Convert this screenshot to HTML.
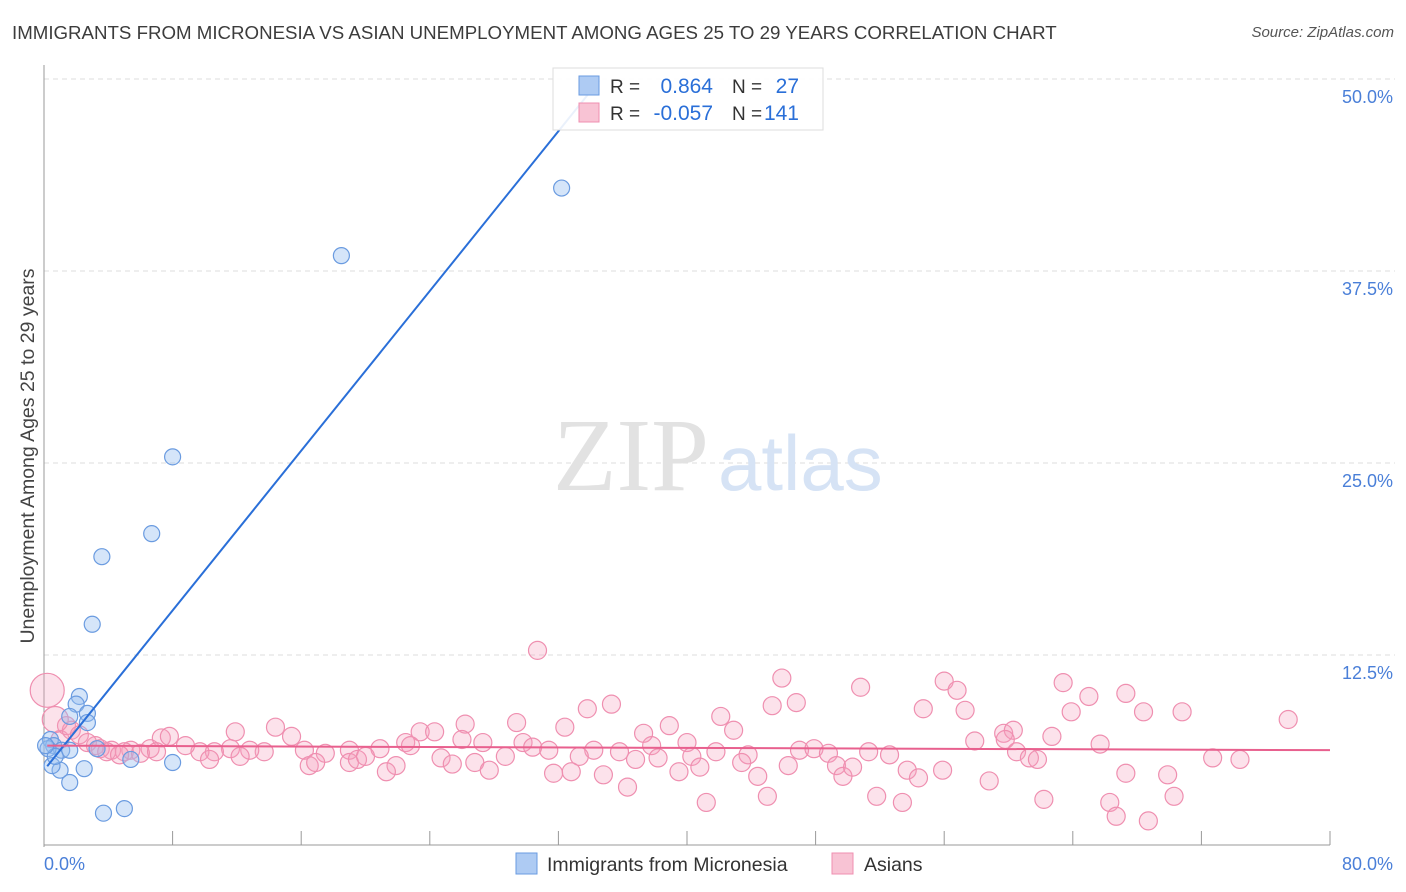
<!DOCTYPE html>
<html><head><meta charset="utf-8"><style>
body{margin:0;background:#fff;font-family:"Liberation Sans",sans-serif;}
#wrap{position:relative;width:1406px;height:892px;overflow:hidden;}
.title{position:absolute;left:12px;top:22px;font-size:18.7px;color:#3c3c3c;white-space:nowrap;}
.source{position:absolute;right:12px;top:24px;font-size:15px;color:#555;font-style:italic;}
</style></head><body>
<div id="wrap">
<div class="title">IMMIGRANTS FROM MICRONESIA VS ASIAN UNEMPLOYMENT AMONG AGES 25 TO 29 YEARS CORRELATION CHART</div>
<div class="source">Source: ZipAtlas.com</div>
<svg id="chart" width="1406" height="892" style="position:absolute;left:0;top:0"></svg>
</div>
<script>
const blueX=[32.2,18.5,8.0,6.7,3.6,3.0,2.2,2.0,2.7,2.7,1.6,0.4,0.6,1.1,3.3,5.4,8.0,2.5,1.0,0.5,1.6,3.7,5.0,0.25,0.7,1.6,0.1];
const blueY=[42.9,38.5,25.4,20.4,18.9,14.5,9.8,9.3,8.7,8.1,8.5,7.0,6.6,6.3,6.4,5.7,5.5,5.1,5.0,5.3,4.2,2.2,2.5,6.4,5.9,6.3,6.6];
const pinkX=[30.7,45.9,50.8,56.0,56.8,63.4,65.0,67.3,46.8,45.3,35.3,33.8,54.7,57.3,63.9,68.4,70.8,77.4,42.1,29.4,26.2,32.4,38.9,42.9,14.4,11.9,23.4,24.3,15.4,7.3,7.8,59.7,60.3,62.7,59.8,57.9,37.3,26.0,27.3,29.8,30.4,22.5,22.8,20.9,19.0,17.5,16.2,13.7,12.8,11.6,10.6,9.7,8.8,6.6,5.4,4.2,3.2,40.0,37.8,34.2,35.8,31.4,41.8,43.8,47.0,47.9,48.8,51.3,52.6,60.5,61.3,61.8,65.7,72.7,74.4,10.3,12.2,16.5,16.9,19.0,19.5,20.0,21.9,24.7,25.4,26.8,28.7,33.3,36.8,38.2,40.3,40.8,43.4,44.4,46.3,49.3,49.7,50.3,53.7,54.4,55.9,67.3,69.9,21.3,27.7,31.7,32.8,34.8,39.5,36.3,45.0,41.2,51.8,53.4,58.8,62.2,66.3,70.3,66.7,68.7,5.0,1.0,1.4,1.7,2.2,2.7,3.5,3.9,6.0,7.0,4.7,0.2,0.7];
const pinkY=[12.8,11.0,10.4,10.8,10.2,10.7,9.8,10.0,9.4,9.2,9.3,9.0,9.0,8.9,8.8,8.8,8.8,8.3,8.5,8.1,8.0,7.8,7.9,7.6,7.8,7.5,7.5,7.5,7.2,7.1,7.2,7.4,7.6,7.2,7.0,6.9,7.4,7.0,6.8,6.8,6.5,6.8,6.6,6.4,6.3,6.1,6.3,6.2,6.3,6.4,6.2,6.2,6.6,6.4,6.3,6.3,6.6,6.8,6.6,6.3,6.2,6.3,6.2,6.0,6.3,6.4,6.1,6.2,6.0,6.2,5.8,5.7,6.7,5.8,5.7,5.7,5.9,5.3,5.5,5.5,5.7,5.9,5.3,5.8,5.4,5.5,5.9,5.9,5.7,5.8,5.9,5.2,5.5,4.6,5.3,5.3,4.6,5.2,5.0,4.5,5.0,4.8,4.7,4.9,5.0,4.8,4.9,4.7,4.9,3.9,3.3,2.9,3.3,2.9,4.3,3.1,2.9,3.3,2.0,1.7,6.2,7.0,7.9,7.6,7.3,6.8,6.4,6.2,6.1,6.2,6.0,10.2,8.3];
const yTicks=[12.5,25.0,37.5,50.0];
const xTickLabels=["0.0%","80.0%"];
const blueFit=[5.0,1.30];   // intercept, slope
const pinkFit=[6.6,-0.0037];

const X0=44,X1=1330,Y0=847,YT=79;
const sx=v=>X0+(X1-X0)*v/80;
const sy=v=>Y0-(Y0-YT)*v/50;
const svg=document.getElementById('chart');
const NS='http://www.w3.org/2000/svg';
function mk(tag,attrs,parent){const e=document.createElementNS(NS,tag);for(const k in attrs)e.setAttribute(k,attrs[k]);(parent||svg).appendChild(e);return e;}

yTicks.forEach(t=>{
 const g=mk('line',{x1:X0,x2:1395,y1:sy(t),y2:sy(t),stroke:'#ddd','stroke-dasharray':'5,4'});
 
 
 const l=mk('text',{x:1393,y:sy(t)+24,'text-anchor':'end','font-size':18,fill:'#4a7fd8','font-family':'Liberation Sans'});
 l.textContent=t.toFixed(1)+'%';
 
 
});
const ax=mk('line',{x1:X0,x2:X0,y1:65,y2:Y0,stroke:'#999'});


const bx=mk('line',{x1:X0,x2:X1,y1:Y0-2,y2:Y0-2,stroke:'#999'});


for(let i=0;i<=10;i++){const t=mk('line',{x1:sx(i*8),x2:sx(i*8),y1:Y0-2,y2:Y0-16,stroke:'#999'});
 
 }
const xl0=mk('text',{x:44,y:870,'font-size':18,fill:'#4a7fd8'});xl0.textContent=xTickLabels[0];


const xl1=mk('text',{x:1393,y:870,'font-size':18,fill:'#4a7fd8','text-anchor':'end'});xl1.textContent=xTickLabels[1];


const yt=mk('text',{x:34,y:456,'font-size':19.5,fill:'#444','text-anchor':'middle',transform:'rotate(-90 34 456)'});
yt.textContent='Unemployment Among Ages 25 to 29 years';


const wm=mk('text',{x:553,y:490,'font-size':104,fill:'#e2e2e2','font-family':'Liberation Serif'});wm.textContent='ZIP';


const wm2=mk('text',{x:718,y:490,'font-size':78,fill:'#d6e3f5'});wm2.textContent='atlas';



pinkX.forEach((x,i)=>{const r=(x<1.2&&pinkY[i]>8)?(pinkY[i]>9.5?17:13):9;
 const c=mk('circle',{cx:sx(x),cy:sy(pinkY[i]),r:r,fill:'rgba(244,160,190,0.3)',stroke:'#ef8fb0','stroke-width':1.2});
 
 });
blueX.forEach((x,i)=>{const c=mk('circle',{cx:sx(x),cy:sy(blueY[i]),r:8,fill:'rgba(150,190,240,0.4)',stroke:'#6a9be0','stroke-width':1.2});
 
 });
const bxEnd=(49.9-blueFit[0])/blueFit[1];
const bl=mk('line',{x1:sx(0.2),y1:sy(blueFit[0]+blueFit[1]*0.2),x2:sx(bxEnd),y2:sy(blueFit[0]+blueFit[1]*bxEnd),stroke:'#2a6fd8','stroke-width':2});


const pl=mk('line',{x1:sx(0.2),y1:sy(pinkFit[0]+pinkFit[1]*0.2),x2:sx(80),y2:sy(pinkFit[0]+pinkFit[1]*80),stroke:'#e8608e','stroke-width':2});



const lg=mk('g',{});


mk('rect',{x:553,y:68,width:270,height:62,fill:'rgba(255,255,255,0.9)',stroke:'#ddd'},lg);
mk('rect',{x:579,y:76,width:20,height:19,fill:'#aecbf3',stroke:'#6a9be0'},lg);
mk('rect',{x:579,y:103,width:20,height:19,fill:'#f8c3d4',stroke:'#ef8fb0'},lg);
[[93,'0.864','27'],[120,'-0.057','141']].forEach(r=>{
 const a=mk('text',{x:610,y:r[0],'font-size':19,fill:'#333'},lg);a.textContent='R = ';
 const b=mk('text',{x:713,y:r[0],'font-size':21,fill:'#2a6fd8','text-anchor':'end'},lg);b.textContent=r[1];
 const c=mk('text',{x:732,y:r[0],'font-size':19,fill:'#333'},lg);c.textContent='N = ';
 const d=mk('text',{x:799,y:r[0],'font-size':21,fill:'#2a6fd8','text-anchor':'end'},lg);d.textContent=r[2];
});
const bl2=mk('g',{});


mk('rect',{x:516,y:853,width:21,height:21,fill:'#aecbf3',stroke:'#6a9be0'},bl2);
const t1=mk('text',{x:547,y:871,'font-size':19.5,fill:'#333'},bl2);t1.textContent='Immigrants from Micronesia';
mk('rect',{x:832,y:853,width:21,height:21,fill:'#f8c3d4',stroke:'#ef8fb0'},bl2);
const t2=mk('text',{x:864,y:871,'font-size':19.5,fill:'#333'},bl2);t2.textContent='Asians';
</script>
</body></html>
